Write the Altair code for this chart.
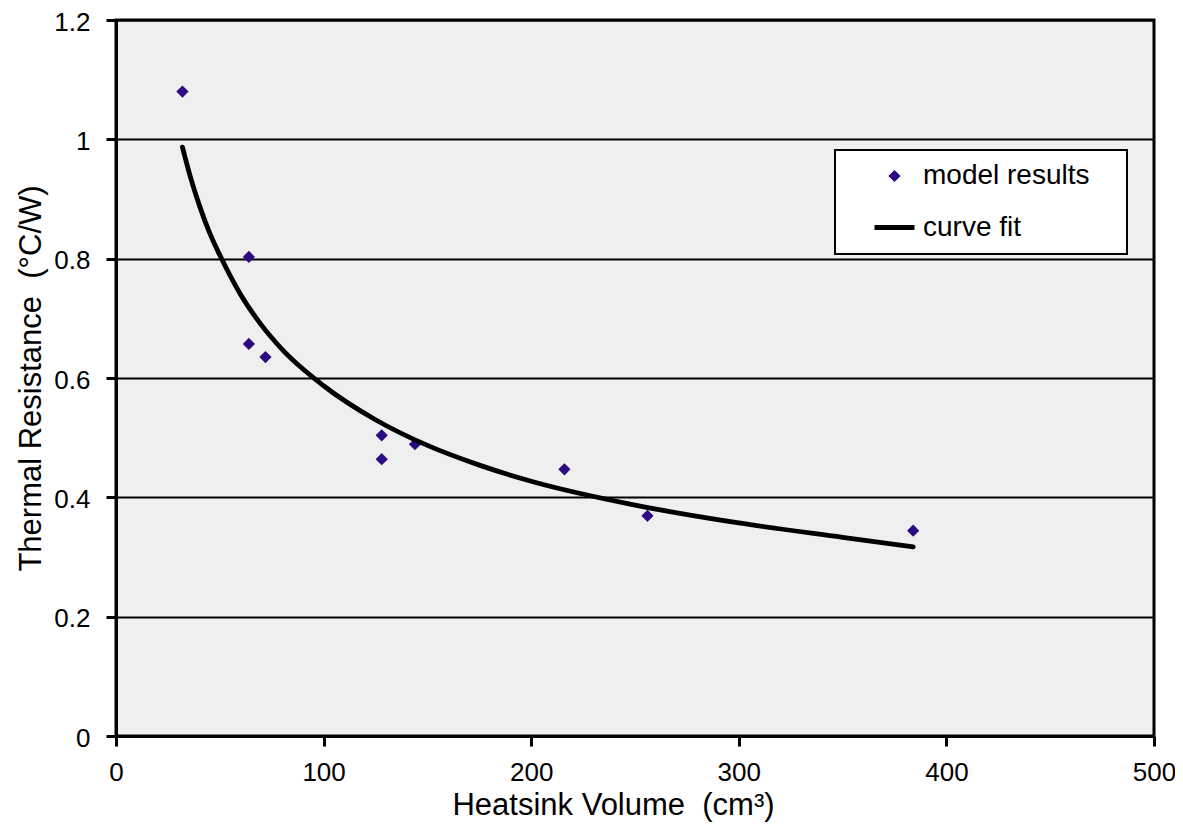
import altair as alt
import pandas as pd

# model results
vol = [32, 64, 64, 72, 128, 128, 144, 216, 256, 384]
res = [1.08, 0.803, 0.657, 0.635, 0.504, 0.464, 0.489, 0.447, 0.369, 0.344]

# curve fit
fit_x = [32, 36, 40, 45, 50, 60, 70, 80, 100, 125, 150, 175, 200, 250, 300, 350, 384]
fit_y = [0.987, 0.935, 0.891, 0.844, 0.806, 0.740, 0.689, 0.648, 0.587, 0.530,
         0.487, 0.454, 0.427, 0.387, 0.357, 0.333, 0.317]

series = ["model results", "curve fit"]
x_ticks = [0, 100, 200, 300, 400, 500]
y_ticks = [0, 0.2, 0.4, 0.6, 0.8, 1.0, 1.2]

PURPLE = "#2d0a80"
FONT = "Liberation Sans"

pts = pd.DataFrame({"vol": vol, "res": res, "series": series[0]})
fit = pd.DataFrame({"vol": fit_x, "res": fit_y, "series": series[1]})

legend = alt.Legend(
    title="\u00a0\u00a0", titleOrient="right", titleFontSize=28, titlePadding=25,
    titleFont=FONT,
    orient="none", legendX=719, legendY=130,
    fillColor="white", strokeColor="black", padding=12,
    labelFont=FONT, labelFontSize=28, labelColor="black", labelLimit=400,
    symbolOffset=25, labelOffset=6, rowPadding=15,
)

x_enc = alt.X("vol:Q", scale=alt.Scale(domain=[0, 500], nice=False),
              axis=alt.Axis(values=x_ticks, grid=False, labelFlush=False,
                            title="Heatsink Volume\u00a0\u00a0(cm³)", titlePadding=5,
                            titleX=497, labelPadding=13))
y_enc = alt.Y("res:Q", scale=alt.Scale(domain=[0, 1.2], nice=False),
              axis=alt.Axis(values=y_ticks, grid=True, format=".1~f",
                            title="Thermal Resistance\u00a0\u00a0(°C/W)", titlePadding=6,
                            labelPadding=16, labelOffset=2))

points = alt.Chart(pts).mark_point(filled=True, opacity=1).encode(
    x=x_enc, y=y_enc,
    fill=alt.Fill("series:N", scale=alt.Scale(domain=series, range=[PURPLE, "transparent"]), legend=legend),
    shape=alt.Shape("series:N", scale=alt.Scale(domain=series, range=["diamond", "stroke"]), legend=legend),
    size=alt.Size("series:N", scale=alt.Scale(domain=series, range=[150, 1600]), legend=legend),
)

line = alt.Chart(fit).mark_line(interpolate="monotone", strokeCap="round").encode(
    x="vol:Q", y="res:Q",
    stroke=alt.Stroke("series:N", scale=alt.Scale(domain=series, range=["transparent", "black"]), legend=legend),
    strokeWidth=alt.StrokeWidth("series:N", scale=alt.Scale(domain=series, range=[0, 4.8]), legend=legend),
)

chart = alt.layer(points, line).properties(
    width=1038, height=716,
    autosize=alt.AutoSizeParams(type="none"),
    padding={"left": 108, "top": 12, "right": 21, "bottom": 88},
    background="white",
).configure_view(
    fill="#efefef", stroke="black", strokeWidth=3,
).configure_axis(
    domainColor="black", domainWidth=3,
    tickColor="black", tickWidth=3, tickSize=10,
    gridColor="black", gridWidth=2, gridOpacity=1,
    labelFont=FONT, labelFontSize=26, labelColor="black",
    titleFont=FONT, titleFontSize=31, titleColor="black", titleFontWeight="normal",
).configure_legend(
    strokeWidth=2,
)

chart.save("out.html", embed_options={"renderer": "svg", "actions": False})
